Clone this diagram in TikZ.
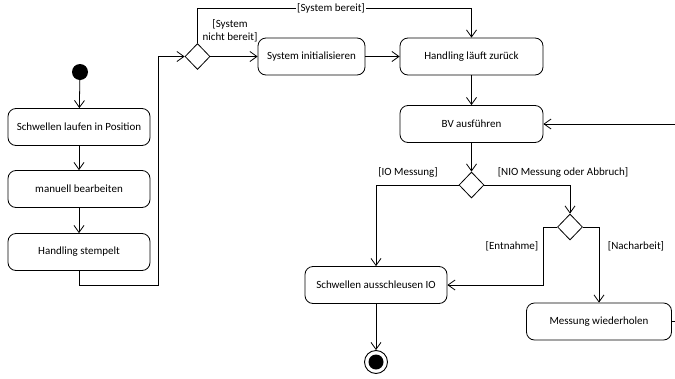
\documentclass[tikz,border=0pt]{standalone}
\usepackage{fontspec}
\setmainfont{Carlito}
\usetikzlibrary{arrows.meta,positioning,shapes.geometric}
\newcommand{\actbox}[4]{
  \node[action,minimum width=#3] (#1) at #2 {#4};
}
\newcommand{\decision}[2]{
  \node[branch] (#1) at #2 {};
}

\begin{document}
\begin{tikzpicture}[x=1pt,y=-1pt,
    >={Straight Barb[length=7pt,width=10pt]},
    every node/.style={font=\fontsize{11}{12.5}\selectfont},
    action/.style={draw,rounded corners=8pt,line width=0.8pt,minimum height=37pt,inner sep=2pt},
    branch/.style={diamond,draw,line width=0.8pt,minimum width=25pt,minimum height=26pt,inner sep=0pt},
    flow/.style={->,line width=0.8pt},
    guard/.style={inner sep=1pt}]
  \clip (0,0) rectangle (675,378);
  % start and left column
  \node[circle,fill=black,minimum size=16pt,inner sep=0pt] (start) at (80,72) {};
  \actbox{lauf}{(79,127)}{142pt}{Schwellen laufen in Position}
  \actbox{manuell}{(79,189)}{142pt}{manuell bearbeiten}
  \actbox{stempel}{(79,252)}{142pt}{Handling stempelt}
  % upper row
  \decision{d1}{(197.5,56.5)}
  \actbox{init}{(311.5,56.5)}{107pt}{System initialisieren}
  \actbox{zurueck}{(471.5,56.5)}{143pt}{Handling läuft zurück}
  \actbox{bv}{(471.5,124)}{143pt}{BV ausführen}
  % lower part
  \decision{d2}{(471.5,185)}
  \decision{d3}{(570,227)}
  \actbox{aus}{(376,285)}{142pt}{Schwellen ausschleusen IO}
  \actbox{wdh}{(599,321.5)}{145pt}{Messung wiederholen}
  \node[circle,draw,line width=0.9pt,minimum size=23pt,inner sep=0pt] (stop) at (376,362) {};
  \node[circle,fill=black,minimum size=15pt,inner sep=0pt] at (stop) {};
  \coordinate (k1) at (158,285);
  \coordinate (k2) at (197.5,8);
  \coordinate (k3) at (543,285);
  \coordinate (k4) at (690,124);

  \draw[flow] (start) -- (lauf);
  \draw[flow] (lauf) -- (manuell);
  \draw[flow] (manuell) -- (stempel);
  \draw[flow] (stempel.south) |- (k1) |- (d1.west);
  \draw[flow] (d1.north) -- (k2) -| (zurueck.north);
  \node[guard,fill=white] at (331,8) {[System bereit]};
  \node[guard,align=center] at (230,31) {[System\\nicht bereit]};
  \draw[flow] (d1.east) -- (init.west);
  \draw[flow] (init.east) -- (zurueck.west);
  \draw[flow] (zurueck) -- (bv);
  \draw[flow] (bv) -- (d2);
  \draw[flow] (d2.west) -| (aus.north);
  \node[guard] at (408,172) {[IO Messung]};
  \draw[flow] (d2.east) -| (d3.north);
  \node[guard] at (563,172) {[NIO Messung oder Abbruch]};
  \draw[flow] (d3.west) -| (k3) -- (aus.east);
  \node[guard] at (512,246) {[Entnahme]};
  \draw[flow] (d3.east) -| (wdh.north);
  \node[guard] at (636,246) {[Nacharbeit]};
  \draw[flow] (wdh.east) -| (k4) -- (bv.east);
  \draw[flow] (aus) -- (stop);
\end{tikzpicture}
\end{document}
